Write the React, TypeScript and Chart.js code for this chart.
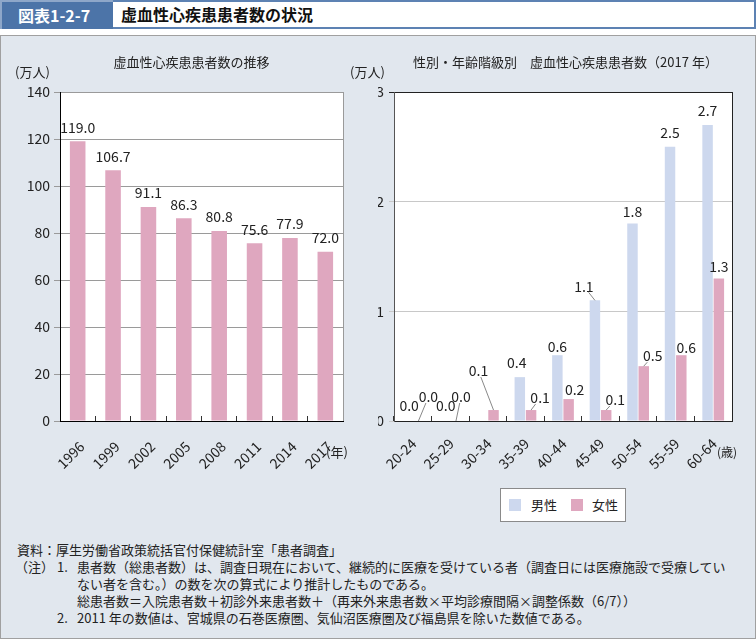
import React, { useEffect, useRef } from 'react';
import { Chart, registerables } from 'chart.js';

Chart.register(...registerables);

// ---------- data ----------
const years = ['1996', '1999', '2002', '2005', '2008', '2011', '2014', '2017'];
const totalPatients = [119.0, 106.7, 91.1, 86.3, 80.8, 75.6, 77.9, 72.0];
const leftTicks = [0, 20, 40, 60, 80, 100, 120, 140];

const ageGroups = ['20-24', '25-29', '30-34', '35-39', '40-44', '45-49', '50-54', '55-59', '60-64'];
const malePatients = [0.0, 0.0, null, 0.4, 0.6, 1.1, 1.8, 2.5, 2.7];
const femalePatients = [0.0, 0.0, 0.1, 0.1, 0.2, 0.1, 0.5, 0.6, 1.3];
const rightTicks = [0, 1, 2, 3];

const seriesNames = ['男性', '女性'];

// ---------- label placement (style only) ----------
const maleLabelShift = [[2, -3], [1, -3], [0, 0], [-3, -2], [0, 3], [-11, -2], [0, 0], [0, -2], [0, -2]];
const maleLeader = [false, false, false, false, false, true, false, false, false];
const femaleLabelShift = [[10, -12], [5, -12], [-15, -27], [9, 0], [6, 3], [9, 2], [9, 2], [5, 4], [0, 0]];
const femaleLeader = [true, true, true, true, false, true, true, false, false];

// ---------- style ----------
const FONT = '"Noto Sans CJK JP", "Noto Sans", sans-serif';
const PINK = '#dfa7bf';
const BLUE = '#cdd8ee';
const TEXT = '#222';
const PANEL_BG = '#e1e7ee';

const framePlugin: any = {
  id: 'frameAndLabels',
  beforeDraw(chart: any) {
    const { ctx, chartArea: a } = chart;
    ctx.save();
    ctx.fillStyle = '#fff';
    ctx.fillRect(a.left, a.top, a.right - a.left, a.bottom - a.top);
    ctx.restore();
  },
  afterDraw(chart: any, _args: any, opts: any) {
    const { ctx, chartArea: a } = chart;
    ctx.save();
    ctx.strokeStyle = opts.frameColor || '#999';
    ctx.lineWidth = 1;
    const rx = Math.round(a.right) + 0.5;
    ctx.beginPath();
    ctx.moveTo(rx, a.top);
    ctx.lineTo(rx, a.bottom);
    ctx.stroke();

    ctx.font = `${opts.fontSize || 14}px ${FONT}`;
    ctx.fillStyle = TEXT;
    ctx.textAlign = 'center';
    ctx.textBaseline = 'middle';
    const gap = opts.gap || 12;
    chart.data.datasets.forEach((ds: any, di: number) => {
      const meta = chart.getDatasetMeta(di);
      const shifts = opts.shifts ? opts.shifts[di] : null;
      const leaders = opts.leaders ? opts.leaders[di] : null;
      meta.data.forEach((bar: any, i: number) => {
        const v = ds.data[i];
        if (v === null || v === undefined) return;
        const bx = bar.x;
        const by = bar.y;
        const s = shifts ? shifts[i] : [0, 0];
        const lx = bx + s[0];
        const ly = by - gap + s[1];
        const txt = v.toFixed(1);
        ctx.fillText(txt, lx, ly);
        if (leaders && leaders[i]) {
          const hw = ctx.measureText(txt).width / 2 + 1;
          const hh = 6;
          const dx = bx - lx;
          const dy = by - ly;
          const tx = dx !== 0 ? hw / Math.abs(dx) : Infinity;
          const ty = dy !== 0 ? hh / Math.abs(dy) : Infinity;
          const t = Math.min(tx, ty);
          if (t < 1) {
            ctx.save();
            ctx.strokeStyle = '#555';
            ctx.lineWidth = 0.7;
            ctx.beginPath();
            ctx.moveTo(lx + dx * t, ly + dy * t);
            ctx.lineTo(bx, by);
            ctx.stroke();
            ctx.restore();
          }
        }
      });
    });
    ctx.restore();
  },
};

const fitX = (s: any) => {
  s.height = 59;
  s.paddingLeft = 0;
  s.paddingRight = 0;
};

function leftConfig(): any {
  return {
    type: 'bar',
    data: {
      labels: years,
      datasets: [
        {
          label: '患者数',
          data: totalPatients,
          backgroundColor: PINK,
          categoryPercentage: 0.44,
          barPercentage: 1,
        },
      ],
    },
    options: {
      animation: false,
      responsive: false,
      maintainAspectRatio: false,
      layout: { padding: { left: 0, right: 35, top: 52, bottom: 0 } },
      plugins: {
        legend: { display: false },
        tooltip: { enabled: false },
        frameAndLabels: { frameColor: '#9a9a9a', gap: 14, fontSize: 14 },
      },
      scales: {
        x: {
          offset: true,
          grid: { offset: true, drawOnChartArea: false, tickLength: -5, color: '#333' },
          border: { color: '#000', width: 1 },
          ticks: {
            autoSkip: false,
            maxRotation: 45,
            minRotation: 45,
            labelOffset: 4,
            padding: 22,
            color: TEXT,
            font: { family: FONT, size: 14 },
          },
          afterFit: fitX,
        },
        y: {
          min: 0,
          max: 140,
          afterBuildTicks: (s: any) => {
            s.ticks = leftTicks.map((value) => ({ value }));
          },
          grid: { color: '#9a9a9a', tickLength: 6 },
          border: { color: '#000', width: 1 },
          ticks: { padding: 4, color: TEXT, font: { family: FONT, size: 14 } },
          afterFit: (s: any) => {
            s.width = 60;
          },
        },
      },
    },
    plugins: [framePlugin],
  };
}

function rightConfig(): any {
  return {
    type: 'bar',
    data: {
      labels: ageGroups,
      datasets: [
        {
          label: seriesNames[0],
          data: malePatients,
          backgroundColor: BLUE,
          categoryPercentage: 0.6,
          barPercentage: 0.93,
        },
        {
          label: seriesNames[1],
          data: femalePatients,
          backgroundColor: PINK,
          categoryPercentage: 0.6,
          barPercentage: 0.93,
        },
      ],
    },
    options: {
      animation: false,
      responsive: false,
      maintainAspectRatio: false,
      layout: { padding: { left: 0, right: 24, top: 52, bottom: 0 } },
      plugins: {
        legend: { display: false },
        tooltip: { enabled: false },
        frameAndLabels: {
          frameColor: '#222',
          gap: 12,
          fontSize: 14,
          shifts: [maleLabelShift, femaleLabelShift],
          leaders: [maleLeader, femaleLeader],
        },
      },
      scales: {
        x: {
          offset: true,
          grid: { offset: true, drawOnChartArea: false, tickLength: -5, color: '#333' },
          border: { color: '#222', width: 1 },
          ticks: {
            autoSkip: false,
            maxRotation: 45,
            minRotation: 45,
            labelOffset: 1,
            padding: 19,
            color: TEXT,
            font: { family: FONT, size: 14 },
          },
          afterFit: fitX,
        },
        y: {
          min: 0,
          max: 3,
          afterBuildTicks: (s: any) => {
            s.ticks = rightTicks.map((value) => ({ value }));
          },
          grid: {
            color: (c: any) => (c.tick && c.tick.value === 3 ? '#222' : '#c8c8c8'),
            tickLength: 5,
          },
          border: { color: '#555', width: 1 },
          ticks: { padding: 5, color: TEXT, font: { family: FONT, size: 14 } },
          afterFit: (s: any) => {
            s.width = 16;
          },
        },
      },
    },
    plugins: [framePlugin],
  };
}

const abs = (x: number, y: number, extra: any = {}): any => ({
  position: 'absolute',
  left: x,
  top: y,
  whiteSpace: 'nowrap',
  ...extra,
});

export default function App() {
  const leftRef = useRef<HTMLCanvasElement>(null);
  const rightRef = useRef<HTMLCanvasElement>(null);

  useEffect(() => {
    document.body.style.margin = '0';
    const l = new Chart(leftRef.current as HTMLCanvasElement, leftConfig());
    const r = new Chart(rightRef.current as HTMLCanvasElement, rightConfig());
    return () => {
      l.destroy();
      r.destroy();
    };
  }, []);

  const noteStyle = { fontSize: 13, lineHeight: '17px', color: TEXT };
  const txt = { fontSize: 13, lineHeight: '17px', color: TEXT };

  return (
    <div
      style={{
        position: 'relative',
        width: 756,
        height: 640,
        overflow: 'hidden',
        background: '#fff',
        fontFamily: FONT,
      }}
    >
      {/* header */}
      <div
        style={abs(0, 0, {
          width: 756,
          height: 29,
          boxSizing: 'border-box',
          border: '2px solid #5d82b3',
          background: '#fff',
        })}
      />
      <div
        style={abs(0, 0, {
          width: 113,
          height: 29,
          boxSizing: 'border-box',
          background: '#4c74a8',
          borderLeft: '2px solid #8ea7c9',
          borderTop: '2px solid #8ea7c9',
          color: '#fff',
          fontWeight: 'bold',
          fontSize: 16,
          lineHeight: '26px',
          paddingLeft: 16,
        })}
      >
        図表1-2-7
      </div>
      <div style={abs(121, 2, { fontSize: 16, fontWeight: 'bold', lineHeight: '24px', color: '#111' })}>
        虚血性心疾患患者数の状況
      </div>

      {/* panel */}
      <div
        style={abs(0, 35, {
          width: 756,
          height: 604,
          boxSizing: 'border-box',
          border: '1.5px solid #a0a0a0',
          background: PANEL_BG,
        })}
      />

      <canvas
        ref={leftRef}
        width={378}
        height={440}
        style={abs(0, 40, { width: 378, height: 440 })}
      />
      <canvas
        ref={rightRef}
        width={378}
        height={440}
        style={abs(378, 40, { width: 378, height: 440 })}
      />

      {/* chart titles and axis units */}
      <div style={abs(90, 53, { ...txt, width: 203, textAlign: 'center' })}>虚血性心疾患患者数の推移</div>
      <div style={abs(402, 53, { ...txt, width: 327, textAlign: 'center' })}>
        性別・年齢階級別　虚血性心疾患患者数（2017 年）
      </div>
      <div style={abs(15, 63, txt)}>(万人)</div>
      <div style={abs(350, 63, txt)}>(万人)</div>
      <div style={abs(326, 443, txt)}>(年)</div>
      <div style={abs(717, 443, { ...txt, fontSize: 12 })}>(歳)</div>

      {/* legend */}
      <div
        style={abs(500, 488, {
          width: 126,
          height: 34,
          boxSizing: 'border-box',
          border: '1px solid #8a8a8a',
          background: '#fff',
        })}
      />
      <div style={abs(509, 499, { width: 12, height: 12, background: BLUE })} />
      <div style={abs(531, 496, txt)}>{seriesNames[0]}</div>
      <div style={abs(571, 499, { width: 12, height: 12, background: PINK })} />
      <div style={abs(592, 496, txt)}>{seriesNames[1]}</div>

      {/* notes */}
      <div style={abs(17, 541, noteStyle)}>資料：厚生労働省政策統括官付保健統計室「患者調査」</div>
      <div style={abs(15, 558, noteStyle)}>（注）</div>
      <div style={abs(57, 558, noteStyle)}>1.</div>
      <div style={abs(77, 558, noteStyle)}>
        患者数（総患者数）は、調査日現在において、継続的に医療を受けている者（調査日には医療施設で受療してい
      </div>
      <div style={abs(77, 575, noteStyle)}>ない者を含む。）の数を次の算式により推計したものである。</div>
      <div style={abs(77, 592, noteStyle)}>
        総患者数＝入院患者数＋初診外来患者数＋（再来外来患者数×平均診療間隔×調整係数（6/7））
      </div>
      <div style={abs(57, 609, noteStyle)}>2.</div>
      <div style={abs(77, 609, noteStyle)}>
        2011 年の数値は、宮城県の石巻医療圏、気仙沼医療圏及び福島県を除いた数値である。
      </div>
    </div>
  );
}
